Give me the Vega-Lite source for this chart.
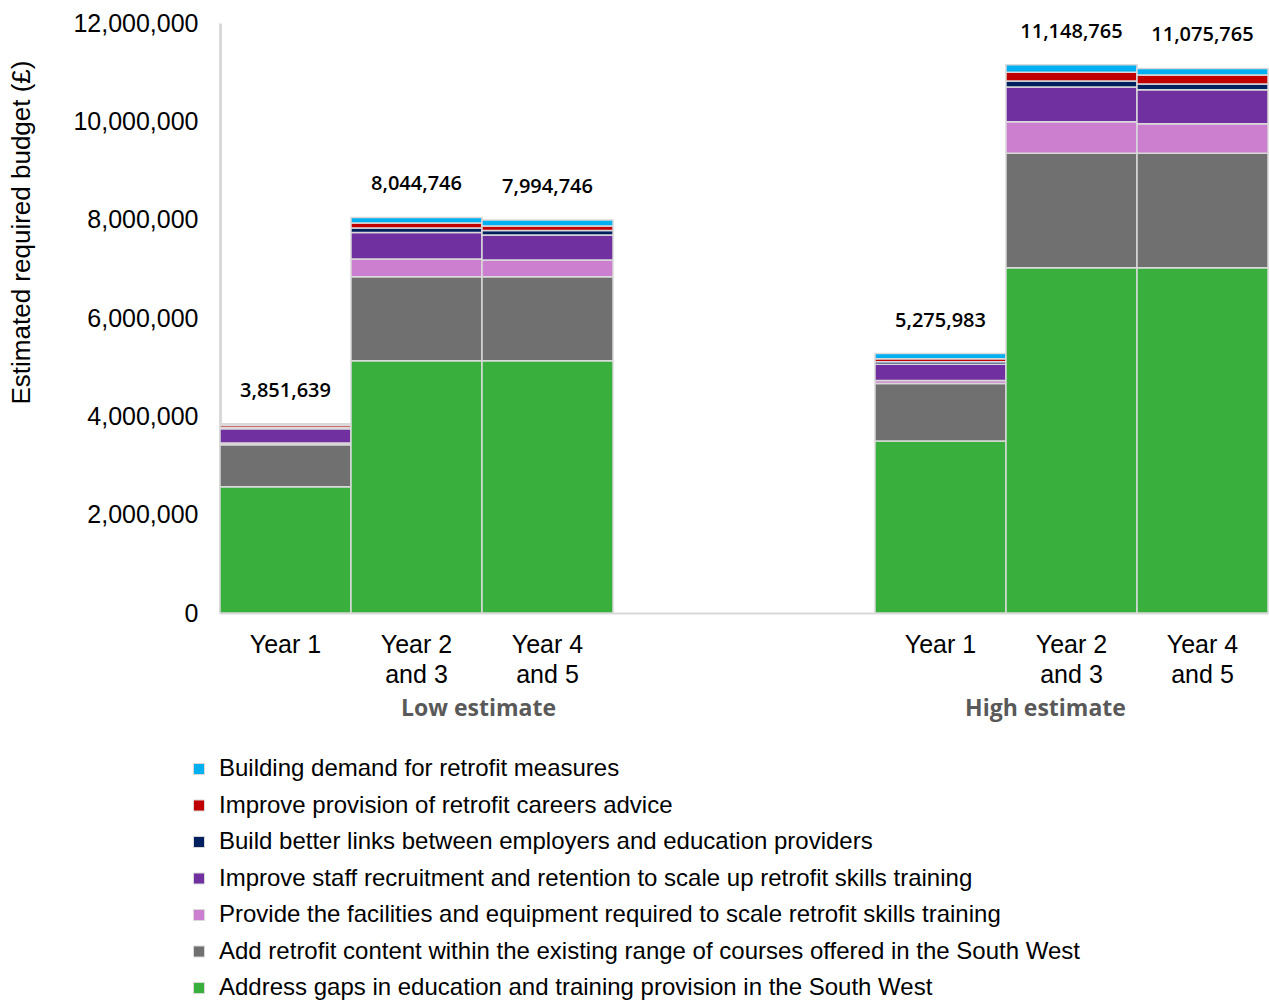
{
  "$schema": "https://vega.github.io/schema/vega-lite/v6.json",
  "width": 1048,
  "height": 590,
  "autosize": {"type": "none"},
  "padding": {"left": 220, "top": 23, "right": 1, "bottom": 388},
  "background": "white",
  "config": {
    "view": {"stroke": null},
    "font": "Liberation Sans",
    "numberFormat": ",",
    "axisY": {
      "titleFont": "Liberation Sans",
      "titleFontSize": 26,
      "titleFontWeight": "normal",
      "titleColor": "#000000",
      "titleX": -199,
      "titleY": 209,
      "titleAngle": 270,
      "titleBaseline": "middle",
      "titleAlign": "center",
      "labelFont": "Liberation Sans",
      "labelFontSize": 25,
      "labelColor": "#000000",
      "labelPadding": 22,
      "ticks": false,
      "grid": false,
      "domainColor": "#d9d9d9",
      "domainWidth": 3
    }
  },
  "datasets": {
    "budget": [
      {"bar": "L1", "item": "Address gaps in education and training provision in the South West", "rank": 1, "value": 2570000},
      {"bar": "L1", "item": "Add retrofit content within the existing range of courses offered in the South West", "rank": 2, "value": 850000},
      {"bar": "L1", "item": "Provide the facilities and equipment required to scale retrofit skills training", "rank": 3, "value": 40000},
      {"bar": "L1", "item": "Improve staff recruitment and retention to scale up retrofit skills training", "rank": 4, "value": 290000},
      {"bar": "L1", "item": "Build better links between employers and education providers", "rank": 5, "value": 30000},
      {"bar": "L1", "item": "Improve provision of retrofit careers advice", "rank": 6, "value": 40000},
      {"bar": "L1", "item": "Building demand for retrofit measures", "rank": 7, "value": 31639},
      {"bar": "L2", "item": "Address gaps in education and training provision in the South West", "rank": 1, "value": 5130000},
      {"bar": "L2", "item": "Add retrofit content within the existing range of courses offered in the South West", "rank": 2, "value": 1710000},
      {"bar": "L2", "item": "Provide the facilities and equipment required to scale retrofit skills training", "rank": 3, "value": 360000},
      {"bar": "L2", "item": "Improve staff recruitment and retention to scale up retrofit skills training", "rank": 4, "value": 540000},
      {"bar": "L2", "item": "Build better links between employers and education providers", "rank": 5, "value": 90000},
      {"bar": "L2", "item": "Improve provision of retrofit careers advice", "rank": 6, "value": 100000},
      {"bar": "L2", "item": "Building demand for retrofit measures", "rank": 7, "value": 114746},
      {"bar": "L4", "item": "Address gaps in education and training provision in the South West", "rank": 1, "value": 5130000},
      {"bar": "L4", "item": "Add retrofit content within the existing range of courses offered in the South West", "rank": 2, "value": 1710000},
      {"bar": "L4", "item": "Provide the facilities and equipment required to scale retrofit skills training", "rank": 3, "value": 340000},
      {"bar": "L4", "item": "Improve staff recruitment and retention to scale up retrofit skills training", "rank": 4, "value": 510000},
      {"bar": "L4", "item": "Build better links between employers and education providers", "rank": 5, "value": 90000},
      {"bar": "L4", "item": "Improve provision of retrofit careers advice", "rank": 6, "value": 90000},
      {"bar": "L4", "item": "Building demand for retrofit measures", "rank": 7, "value": 124746},
      {"bar": "H1", "item": "Address gaps in education and training provision in the South West", "rank": 1, "value": 3500000},
      {"bar": "H1", "item": "Add retrofit content within the existing range of courses offered in the South West", "rank": 2, "value": 1170000},
      {"bar": "H1", "item": "Provide the facilities and equipment required to scale retrofit skills training", "rank": 3, "value": 60000},
      {"bar": "H1", "item": "Improve staff recruitment and retention to scale up retrofit skills training", "rank": 4, "value": 330000},
      {"bar": "H1", "item": "Build better links between employers and education providers", "rank": 5, "value": 50000},
      {"bar": "H1", "item": "Improve provision of retrofit careers advice", "rank": 6, "value": 60000},
      {"bar": "H1", "item": "Building demand for retrofit measures", "rank": 7, "value": 105983},
      {"bar": "H2", "item": "Address gaps in education and training provision in the South West", "rank": 1, "value": 7020000},
      {"bar": "H2", "item": "Add retrofit content within the existing range of courses offered in the South West", "rank": 2, "value": 2330000},
      {"bar": "H2", "item": "Provide the facilities and equipment required to scale retrofit skills training", "rank": 3, "value": 640000},
      {"bar": "H2", "item": "Improve staff recruitment and retention to scale up retrofit skills training", "rank": 4, "value": 710000},
      {"bar": "H2", "item": "Build better links between employers and education providers", "rank": 5, "value": 120000},
      {"bar": "H2", "item": "Improve provision of retrofit careers advice", "rank": 6, "value": 180000},
      {"bar": "H2", "item": "Building demand for retrofit measures", "rank": 7, "value": 148765},
      {"bar": "H4", "item": "Address gaps in education and training provision in the South West", "rank": 1, "value": 7020000},
      {"bar": "H4", "item": "Add retrofit content within the existing range of courses offered in the South West", "rank": 2, "value": 2330000},
      {"bar": "H4", "item": "Provide the facilities and equipment required to scale retrofit skills training", "rank": 3, "value": 600000},
      {"bar": "H4", "item": "Improve staff recruitment and retention to scale up retrofit skills training", "rank": 4, "value": 690000},
      {"bar": "H4", "item": "Build better links between employers and education providers", "rank": 5, "value": 120000},
      {"bar": "H4", "item": "Improve provision of retrofit careers advice", "rank": 6, "value": 180000},
      {"bar": "H4", "item": "Building demand for retrofit measures", "rank": 7, "value": 135765}
    ]
  },
  "encoding": {
    "x": {
      "field": "bar",
      "type": "nominal",
      "sort": null,
      "scale": {"domain": ["L1", "L2", "L4", "g1", "g2", "H1", "H2", "H4"], "paddingInner": 0, "paddingOuter": 0},
      "axis": {
        "title": null,
        "labelAngle": 0,
        "labelFont": "Liberation Sans",
        "labelFontSize": 25,
        "labelColor": "#000000",
        "labelLineHeight": 30,
        "labelPadding": 19,
        "ticks": false,
        "domainColor": "#d9d9d9",
        "domainWidth": 2,
        "labelExpr": "datum.value == 'L1' || datum.value == 'H1' ? 'Year 1' : (datum.value == 'L2' || datum.value == 'H2' ? ['Year 2', 'and 3'] : (datum.value == 'L4' || datum.value == 'H4' ? ['Year 4', 'and 5'] : ''))"
      }
    }
  },
  "layer": [
    {
      "data": {"name": "budget"},
      "mark": {"type": "text", "font": "Open Sans", "fontSize": 20, "fontWeight": 600, "color": "#000000", "dy": -33},
      "encoding": {
        "y": {"field": "value", "type": "quantitative", "aggregate": "sum", "axis": {"title": "Estimated required budget (£)", "values": [0, 2000000, 4000000, 6000000, 8000000, 10000000, 12000000], "format": ",", "labelExpr": "format(datum.value, ',')"}},
        "text": {"field": "value", "type": "quantitative", "aggregate": "sum", "format": ","}
      }
    },
    {
      "data": {"values": [{"bar": "L2", "label": "Low estimate"}]},
      "mark": {"type": "text", "font": "Open Sans", "fontSize": 23, "fontWeight": "bold", "color": "#595959", "dy": 96, "dx": 62},
      "encoding": {
        "y": {"datum": 0, "type": "quantitative", "axis": {"title": "Estimated required budget (£)", "values": [0, 2000000, 4000000, 6000000, 8000000, 10000000, 12000000], "format": ",", "labelExpr": "format(datum.value, ',')"}},
        "text": {"field": "label"}
      }
    },
    {
      "data": {"values": [{"bar": "H2", "label": "High estimate"}]},
      "mark": {"type": "text", "font": "Open Sans", "fontSize": 23, "fontWeight": "bold", "color": "#595959", "dy": 96, "dx": -26},
      "encoding": {
        "y": {"datum": 0, "type": "quantitative", "axis": {"title": "Estimated required budget (£)", "values": [0, 2000000, 4000000, 6000000, 8000000, 10000000, 12000000], "format": ",", "labelExpr": "format(datum.value, ',')"}},
        "text": {"field": "label"}
      }
    },
    {
      "data": {"name": "budget"},
      "mark": {"type": "bar", "stroke": "#d9d9d9", "strokeWidth": 1.5},
      "encoding": {
        "y": {
          "field": "value",
          "type": "quantitative",
          "aggregate": "sum",
          "stack": "zero",
          "scale": {"domain": [0, 12000000], "nice": false},
          "axis": {"title": "Estimated required budget (£)", "values": [0, 2000000, 4000000, 6000000, 8000000, 10000000, 12000000], "format": ",", "labelExpr": "format(datum.value, ',')"}
        },
        "color": {
          "field": "item",
          "type": "nominal",
          "scale": {
            "domain": [
              "Building demand for retrofit measures",
              "Improve provision of retrofit careers advice",
              "Build better links between employers and education providers",
              "Improve staff recruitment and retention to scale up retrofit skills training",
              "Provide the facilities and equipment required to scale retrofit skills training",
              "Add retrofit content within the existing range of courses offered in the South West",
              "Address gaps in education and training provision in the South West"
            ],
            "range": ["#00b0f0", "#c00000", "#002060", "#7030a0", "#cc7fcf", "#707070", "#39b03e"]
          },
          "legend": {
            "title": null,
            "orient": "none",
            "legendX": -33,
            "legendY": 734,
            "direction": "vertical",
            "symbolType": "square",
            "symbolSize": 121,
            "symbolStrokeColor": "#d9d9d9",
            "symbolStrokeWidth": 1,
            "labelFont": "Liberation Sans",
            "labelFontSize": 24,
            "labelColor": "#000000",
            "labelOffset": 8,
            "labelLimit": 1200,
            "rowPadding": 12.5
          }
        },
        "order": {"field": "rank", "type": "quantitative", "sort": "ascending"}
      }
    }
  ]
}
